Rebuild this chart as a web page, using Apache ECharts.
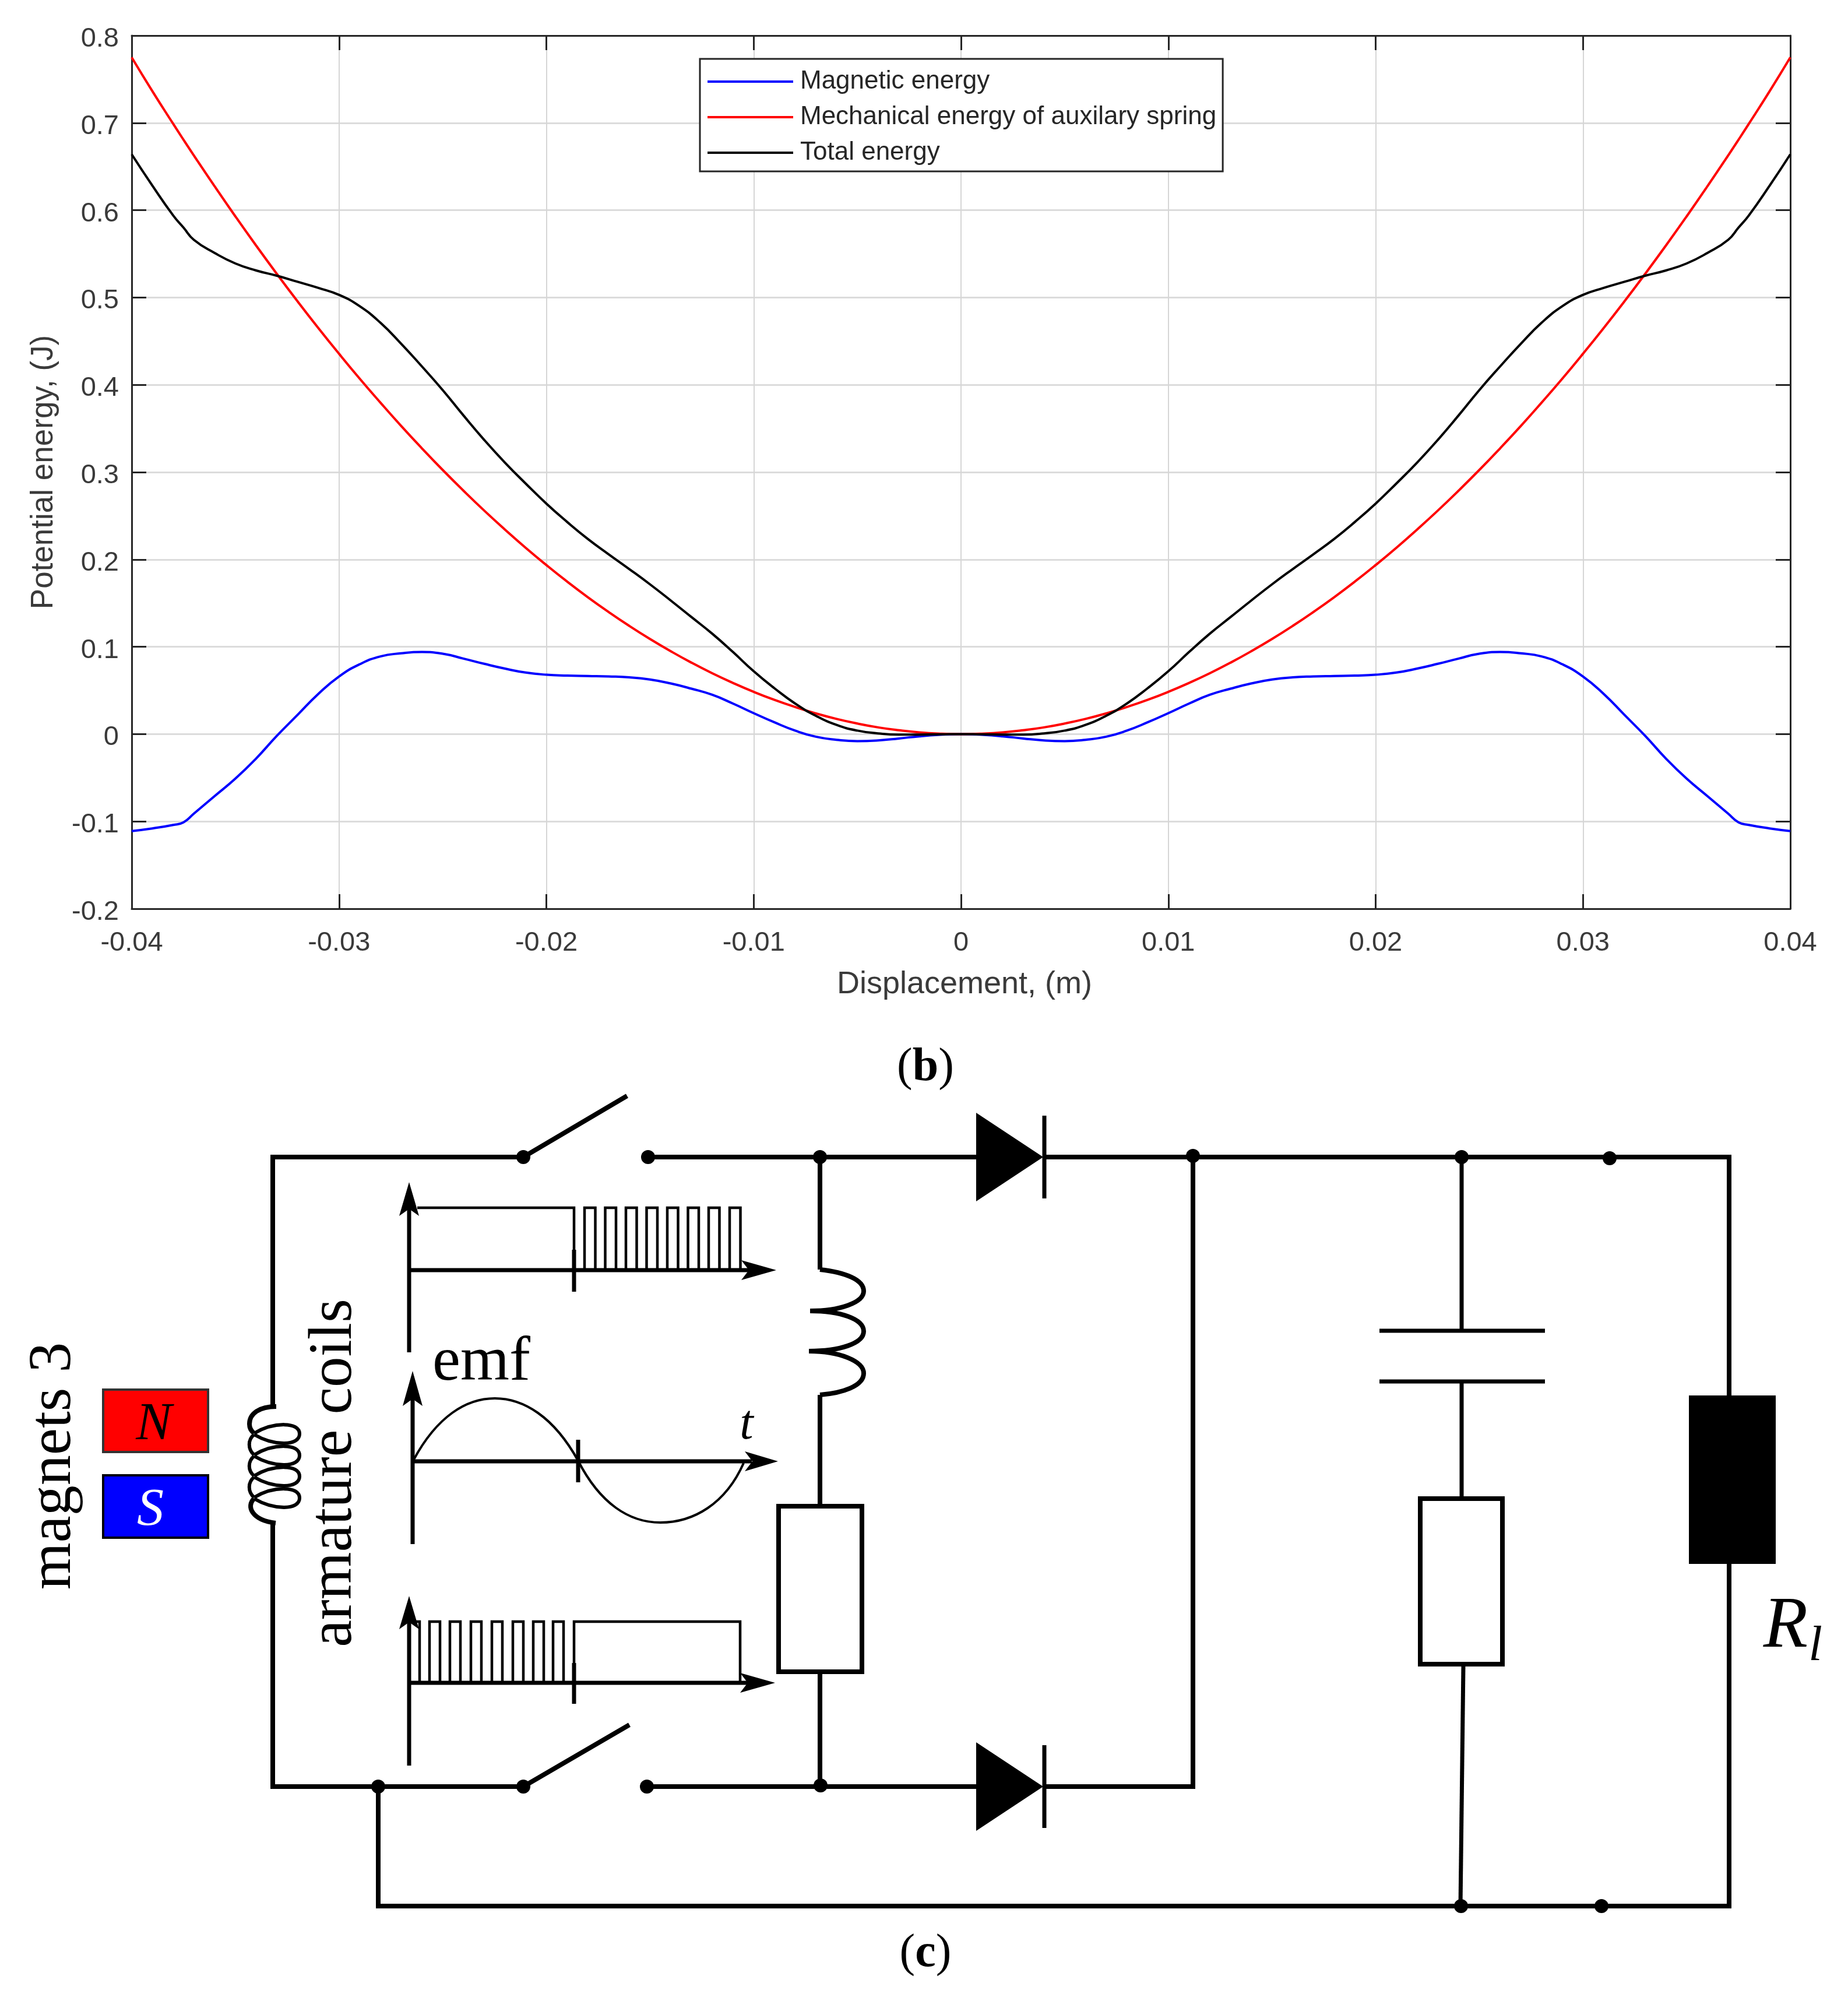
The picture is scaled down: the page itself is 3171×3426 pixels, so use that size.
<!DOCTYPE html>
<html>
<head>
<meta charset="utf-8">
<script src="https://cdn.jsdelivr.net/npm/echarts@6/dist/echarts.min.js"></script>
<style>
  html, body { margin: 0; padding: 0; background: #fff; }
  #chart { width: 3171px; height: 3426px; }
</style>
</head>
<body>
<div id="chart"></div>
<script>
// values
var displacement = [
  -0.04, -0.039, -0.038, -0.0375, -0.037, -0.036, -0.035, -0.034, -0.033, -0.032, -0.031,
  -0.03, -0.029, -0.028, -0.027, -0.026, -0.025, -0.024, -0.023, -0.022, -0.021,
  -0.02, -0.019, -0.018, -0.017, -0.016, -0.015, -0.014, -0.013, -0.012, -0.011,
  -0.01, -0.009, -0.008, -0.007, -0.006, -0.005, -0.004, -0.003, -0.002, -0.001,
  0,
  0.001, 0.002, 0.003, 0.004, 0.005, 0.006, 0.007, 0.008, 0.009, 0.01,
  0.011, 0.012, 0.013, 0.014, 0.015, 0.016, 0.017, 0.018, 0.019, 0.02,
  0.021, 0.022, 0.023, 0.024, 0.025, 0.026, 0.027, 0.028, 0.029, 0.03,
  0.031, 0.032, 0.033, 0.034, 0.035, 0.036, 0.037, 0.0375, 0.038, 0.039, 0.04
];
var magneticEnergy = [
  -0.111, -0.108, -0.104, -0.101, -0.091, -0.071, -0.051, -0.028, -0.002, 0.022, 0.046,
  0.066, 0.08, 0.089, 0.0925, 0.094, 0.092, 0.0865, 0.0805, 0.075, 0.0705,
  0.068, 0.067, 0.0665, 0.066, 0.065, 0.0625, 0.058, 0.052, 0.045, 0.035,
  0.024, 0.0135, 0.004, -0.003, -0.0065, -0.008, -0.0072, -0.005, -0.0025, -0.0008,
  0,
  -0.0008, -0.0025, -0.005, -0.0072, -0.008, -0.0065, -0.003, 0.004, 0.0135, 0.024,
  0.035, 0.045, 0.052, 0.058, 0.0625, 0.065, 0.066, 0.0665, 0.067, 0.068,
  0.0705, 0.075, 0.0805, 0.0865, 0.092, 0.094, 0.0925, 0.089, 0.08, 0.066,
  0.046, 0.022, -0.002, -0.028, -0.051, -0.071, -0.091, -0.101, -0.104, -0.108, -0.111
];
var springEnergy = [
  0.775, 0.7362, 0.6989, 0.6806, 0.6626, 0.6273, 0.5929, 0.5595, 0.5271, 0.4956, 0.4651,
  0.4356, 0.407, 0.3795, 0.3528, 0.3272, 0.3025, 0.2788, 0.256, 0.2343, 0.2134,
  0.1936, 0.1747, 0.1568, 0.1399, 0.1239, 0.1089, 0.0949, 0.0818, 0.0697, 0.0586,
  0.0484, 0.0392, 0.031, 0.0237, 0.0174, 0.0121, 0.0077, 0.0044, 0.0019, 0.0005,
  0,
  0.0005, 0.0019, 0.0044, 0.0077, 0.0121, 0.0174, 0.0237, 0.031, 0.0392, 0.0484,
  0.0586, 0.0697, 0.0818, 0.0949, 0.1089, 0.1239, 0.1399, 0.1568, 0.1747, 0.1936,
  0.2134, 0.2343, 0.256, 0.2788, 0.3025, 0.3272, 0.3528, 0.3795, 0.407, 0.4356,
  0.4651, 0.4956, 0.5271, 0.5595, 0.5929, 0.6273, 0.6626, 0.6806, 0.6989, 0.7362, 0.775
];
var totalEnergy = [
  0.664, 0.628, 0.594, 0.58, 0.566, 0.551, 0.539, 0.531, 0.525, 0.518, 0.511,
  0.503, 0.49, 0.471, 0.447, 0.421, 0.394, 0.365, 0.337, 0.311, 0.287,
  0.264, 0.243, 0.2235, 0.206, 0.189, 0.1715, 0.153, 0.134, 0.115, 0.094,
  0.072, 0.0525, 0.035, 0.021, 0.0105, 0.004, 0.0008, -0.0006, -0.0005, -0.0003,
  0,
  -0.0003, -0.0005, -0.0006, 0.0008, 0.004, 0.0105, 0.021, 0.035, 0.0525, 0.072,
  0.094, 0.115, 0.134, 0.153, 0.1715, 0.189, 0.206, 0.2235, 0.243, 0.264,
  0.287, 0.311, 0.337, 0.365, 0.394, 0.421, 0.447, 0.471, 0.49, 0.503,
  0.511, 0.518, 0.525, 0.531, 0.539, 0.551, 0.566, 0.58, 0.594, 0.628, 0.664
];
var seriesNames = ["Magnetic energy", "Mechanical energy of auxilary spring", "Total energy"];

function pairs(ys) {
  return ys.map(function (y, i) { return [displacement[i], y]; });
}

// ---- schematic (c), drawn as plain graphic elements ----
var BLACK = "#000";
var WIRE = 8;
var SERIF = "'Liberation Serif'";
var els = [];

function wire(points, w) {
  els.push({ type: "polyline", z: 10, shape: { points: points },
    style: { stroke: BLACK, lineWidth: w || WIRE, fill: null, lineJoin: "miter" } });
}
function curve(x1, y1, cx1, cy1, cx2, cy2, x2, y2, w) {
  els.push({ type: "bezierCurve", z: 10,
    shape: { x1: x1, y1: y1, cpx1: cx1, cpy1: cy1, cpx2: cx2, cpy2: cy2, x2: x2, y2: y2 },
    style: { stroke: BLACK, lineWidth: w || WIRE, fill: null } });
}
function node(x, y) {
  els.push({ type: "circle", z: 11, shape: { cx: x, cy: y, r: 12 }, style: { fill: BLACK } });
}
function shape(points, fill) {
  els.push({ type: "polygon", z: 11, shape: { points: points }, style: { fill: fill || BLACK } });
}
function box(x, y, w, h, fill, stroke, lw) {
  els.push({ type: "rect", z: 10, shape: { x: x, y: y, width: w, height: h },
    style: { fill: fill, stroke: stroke, lineWidth: lw } });
}
function label(text, x, y, size, opts) {
  opts = opts || {};
  els.push({ type: "text", z: 12, x: x, y: y, rotation: opts.rotation || 0,
    style: {
      text: text,
      font: (opts.italic ? "italic " : "") + size + "px " + SERIF,
      fill: opts.color || BLACK,
      textAlign: opts.align || "center",
      textVerticalAlign: "middle",
      rich: opts.rich
    } });
}
function panelLabel(letter, x, y) {
  label("{n|(}{b|" + letter + "}{n|)}", x, y, 80, {
    rich: {
      n: { font: "80px " + SERIF, fill: BLACK },
      b: { font: "bold 80px " + SERIF, fill: BLACK }
    }
  });
}
function arrowUp(x, tip, base) {
  shape([[x, tip], [x + 17, base], [x, base - 12], [x - 17, base]]);
}
function arrowRight(y, tip, base) {
  shape([[tip, y], [base, y - 17], [base + 13, y], [base, y + 17]]);
}

// outer wires
wire([[898, 1985], [468, 1985], [468, 2413]]);
wire([[468, 2613], [468, 3065], [898, 3065]]);
wire([[1112, 1985], [1675, 1985]]);
wire([[1110, 3065], [1675, 3065]]);
wire([[1790, 1985], [2967, 1985], [2967, 3270], [649, 3270], [649, 3065]]);
wire([[1790, 3065], [2047, 3065], [2047, 1985]]);

// switches
wire([[898, 1985], [1076, 1880]]);
wire([[898, 3065], [1080, 2959]]);

// diodes
[1985, 3065].forEach(function (y) {
  shape([[1675, y - 76], [1675, y + 76], [1790, y]]);
  wire([[1792, y - 71], [1792, y + 71]], 7);
});

// nodes
[[898, 1985], [1112, 1985], [1407, 1985], [2047, 1983], [2508, 1985], [2762, 1987],
 [649, 3065], [898, 3065], [1110, 3065], [1408, 3063], [2507, 3270], [2748, 3270]
].forEach(function (p) { node(p[0], p[1]); });

// series inductor + resistor
wire([[1407, 1985], [1407, 2178]]);
curve(1407, 2178, 1450, 2183, 1482, 2195, 1482, 2215);
curve(1482, 2215, 1482, 2235, 1440, 2249, 1390, 2249);
curve(1390, 2249, 1440, 2249, 1482, 2262, 1482, 2284);
curve(1482, 2284, 1482, 2305, 1440, 2318, 1388, 2318);
curve(1388, 2318, 1440, 2318, 1482, 2335, 1482, 2356);
curve(1482, 2356, 1482, 2378, 1445, 2390, 1407, 2393);
wire([[1407, 2393], [1407, 2583]]);
box(1336, 2584, 143, 284, "#fff", BLACK, 8);
wire([[1407, 2869], [1407, 3065]]);

// capacitor branch
wire([[2508, 1985], [2508, 2283]], 7);
wire([[2367, 2283], [2651, 2283]], 7);
wire([[2367, 2370], [2651, 2370]], 7);
wire([[2508, 2370], [2508, 2570]], 7);
box(2437, 2571, 141, 284, "#fff", BLACK, 8);
wire([[2511, 2856], [2506, 3270]], 7);

// load
box(2898, 2394, 149, 289, BLACK, BLACK, 0);

// armature coil
curve(474, 2413, 445, 2413, 428, 2425, 428, 2443);
curve(428, 2443, 428, 2450, 431, 2455, 436, 2459);
[2460, 2497, 2533, 2570].forEach(function (yc, i, all) {
  curve(436, yc - 1, 470, yc - 21, 514, yc - 21, 514, yc, 6);
  curve(514, yc, 514, yc + 21, 470, yc + 21, 436, yc + 1, 6);
  if (i < all.length - 1) {
    curve(436, yc + 1, 425, yc + 10, 425, yc + 26, 436, all[i + 1] - 1, 6);
  }
});
curve(436, 2571, 422, 2584, 432, 2608, 473, 2613);

// pulse panel 1
wire([[702, 2320], [702, 2050]], 7);
arrowUp(702, 2028, 2086);
wire([[702, 2179], [1285, 2179]], 7);
arrowRight(2179, 1332, 1272);
wire([[716, 2072], [985, 2072], [985, 2179]], 4.5);
wire([[985, 2144], [985, 2216]], 7);
[1003, 1038.5, 1074, 1109.5, 1145, 1180.5, 1216, 1252].forEach(function (x) {
  wire([[x, 2179], [x, 2072], [x + 18.5, 2072], [x + 18.5, 2179]], 4.5);
});

// sine panel
wire([[708, 2649], [708, 2375]], 7);
arrowUp(708, 2352, 2412);
wire([[708, 2507], [1290, 2507]], 7);
arrowRight(2507, 1335, 1278);
wire([[992, 2470], [992, 2543]], 7);
curve(710, 2504, 750, 2430, 800, 2399, 849, 2399, 4);
curve(849, 2399, 898, 2399, 950, 2430, 992, 2506, 4);
curve(992, 2506, 1030, 2580, 1080, 2612, 1133, 2612, 4);
curve(1133, 2612, 1190, 2612, 1245, 2580, 1276, 2510, 4);

// pulse panel 3
wire([[702, 3029], [702, 2760]], 7);
arrowUp(702, 2738, 2795);
wire([[702, 2887], [1285, 2887]], 7);
arrowRight(2887, 1330, 1270);
[702, 737, 772, 808, 844, 880, 915, 949].forEach(function (x) {
  wire([[x, 2887], [x, 2782], [x + 18, 2782], [x + 18, 2887]], 4.5);
});
wire([[985, 2887], [985, 2782], [1270, 2782], [1270, 2887]], 4.5);
wire([[985, 2853], [985, 2923]], 7);

// magnets
box(177, 2384, 180, 107, "#ff0000", "#333", 4);
box(177, 2531, 180, 107, "#0000ff", "#000", 4);
label("N", 264, 2445, 92, { italic: true });
label("S", 258, 2592, 92, { italic: true, color: "#fff" });

// schematic text
label("magnets 3", 93, 2515, 104, { rotation: Math.PI / 2 });
label("armature coils", 574, 2527, 105, { rotation: Math.PI / 2 });
label("emf", 826, 2339, 108);
label("t", 1281, 2446, 84, { italic: true });
label("R", 3064, 2792, 125, { italic: true });
label("l", 3115, 2826, 85, { italic: true });
panelLabel("b", 1588, 1832);
panelLabel("c", 1588, 3352);

// ---- chart ----
var AXIS = "#262626";
var chart = echarts.init(document.getElementById("chart"));

function axisCommon() {
  return {
    axisLine: { show: true, onZero: false, lineStyle: { color: AXIS, width: 3 } },
    axisTick: { show: true, inside: true, length: 25, lineStyle: { color: AXIS, width: 3 } }
  };
}
var xBase = { type: "value", min: -0.04, max: 0.04, interval: 0.01 };
var yBase = { type: "value", min: -0.2, max: 0.8, interval: 0.1 };

var labelStyle = { color: "#3a3a3a", fontFamily: "Liberation Sans", fontSize: 47 };

chart.setOption({
  animation: false,
  backgroundColor: "#fff",
  textStyle: { fontFamily: "Liberation Sans" },
  grid: { left: 226, top: 61, width: 2846, height: 1498, containLabel: false },
  legend: {
    data: seriesNames,
    orient: "vertical",
    left: 1201,
    top: 101,
    padding: [17, 11, 10, 11],
    itemGap: 17,
    itemWidth: 147,
    itemHeight: 14,
    align: "left",
    backgroundColor: "#fff",
    borderColor: AXIS,
    borderWidth: 3,
    itemStyle: { opacity: 0 },
    lineStyle: { width: 4 },
    textStyle: { color: "#262626", fontFamily: "Liberation Sans", fontSize: 44, padding: [0, 0, 0, 7] }
  },
  xAxis: [
    Object.assign({}, xBase, axisCommon(), {
      position: "bottom",
      name: "Displacement, (m)",
      nameLocation: "middle",
      nameGap: 103,
      nameTextStyle: { color: "#3a3a3a", fontFamily: "Liberation Sans", fontSize: 54, padding: [0, 0, 0, 12] },
      axisLabel: Object.assign({ margin: 36 }, labelStyle),
      splitLine: { show: true, lineStyle: { color: "#d6d6d6", width: 2 } }
    }),
    Object.assign({}, xBase, axisCommon(), {
      position: "top", axisLabel: { show: false }, splitLine: { show: false }
    })
  ],
  yAxis: [
    Object.assign({}, yBase, axisCommon(), {
      position: "left",
      name: "Potential energy, (J)",
      nameLocation: "middle",
      nameGap: 124,
      nameTextStyle: { color: "#3a3a3a", fontFamily: "Liberation Sans", fontSize: 53 },
      // labels sit a little below their ticks in the original
      axisLabel: Object.assign({ margin: 22, verticalAlign: "top", lineHeight: 12 }, labelStyle),
      splitLine: { show: true, lineStyle: { color: "#dcdcdc", width: 3 } }
    }),
    Object.assign({}, yBase, axisCommon(), {
      position: "right", axisLabel: { show: false }, splitLine: { show: false }
    })
  ],
  graphic: { elements: els },
  series: [
    { name: seriesNames[0], data: pairs(magneticEnergy), color: "#0000ff" },
    { name: seriesNames[1], data: pairs(springEnergy), color: "#ff0000" },
    { name: seriesNames[2], data: pairs(totalEnergy), color: "#000000" }
  ].map(function (s, i) {
    return {
      name: s.name,
      type: "line",
      data: s.data,
      symbol: "none",
      smooth: 0.5,
      clip: true,
      z: 3 + i,
      itemStyle: { color: s.color },
      lineStyle: { color: s.color, width: 4 }
    };
  })
});
</script>
</body>
</html>
